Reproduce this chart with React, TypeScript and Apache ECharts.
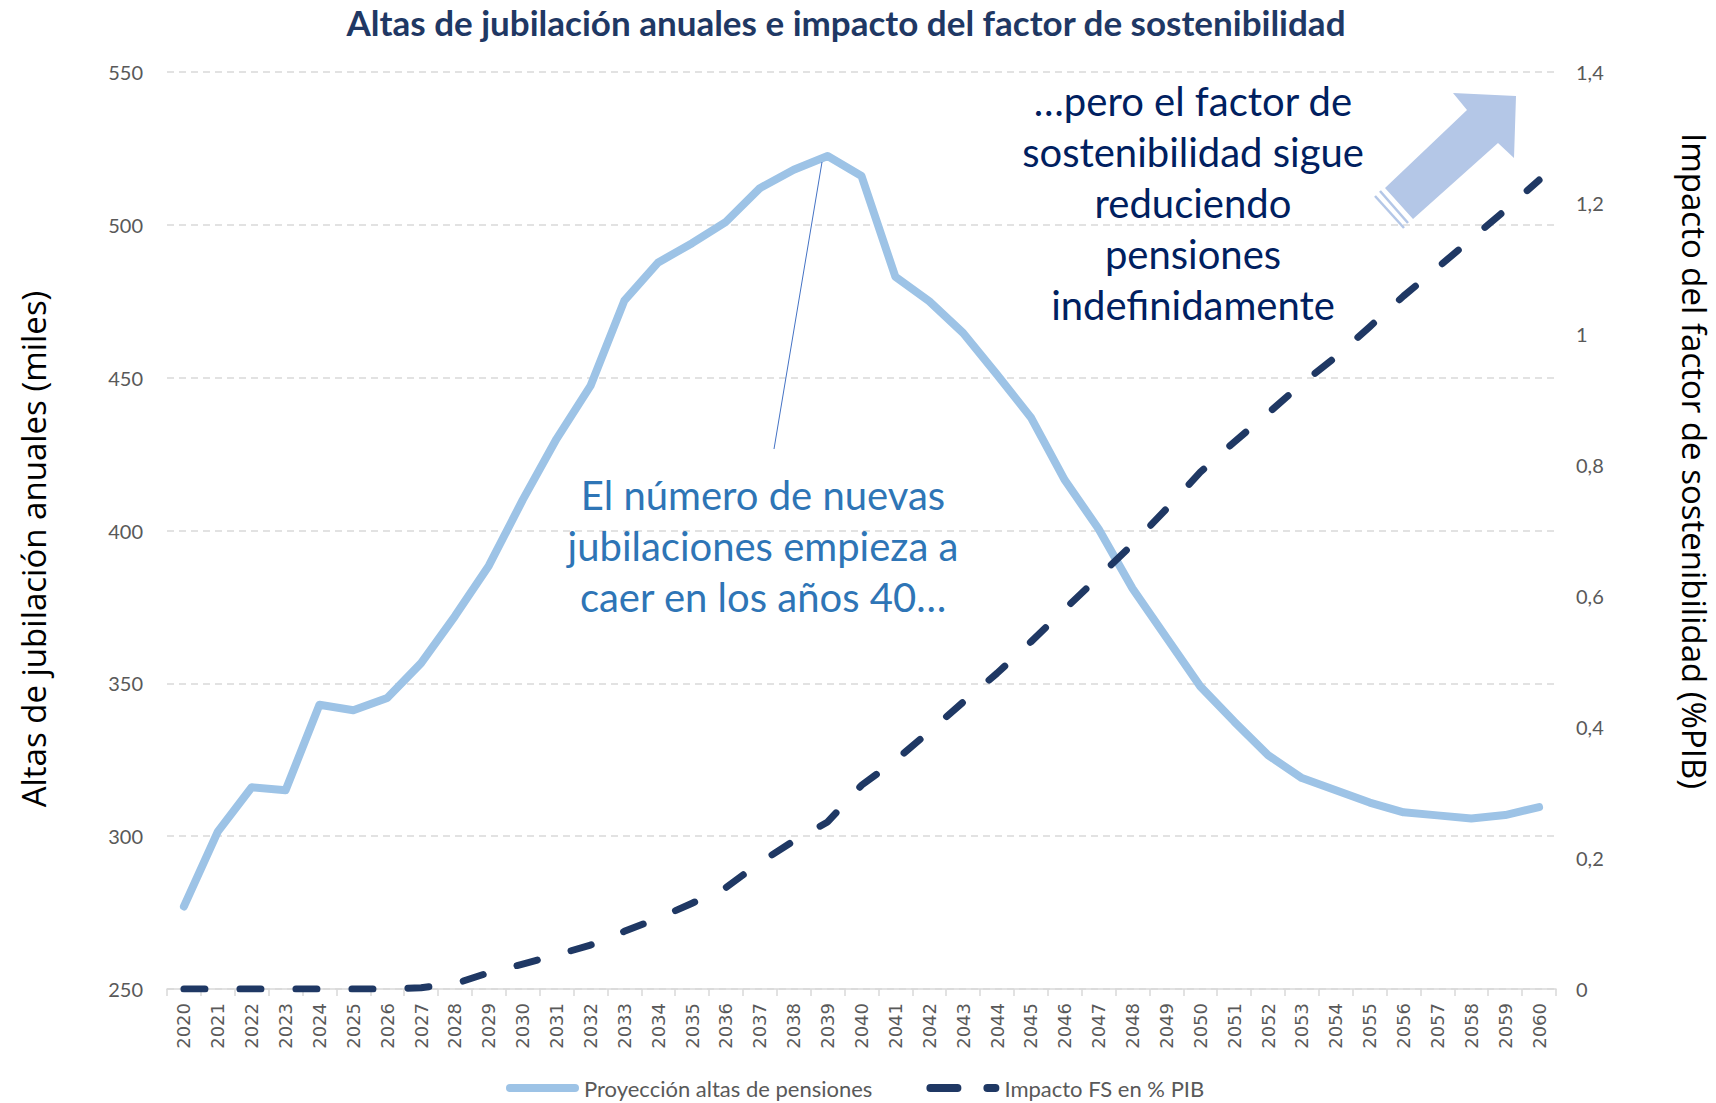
import React, { useEffect, useRef } from "react";
import * as echarts from "echarts";

const years = [
  "2020", "2021", "2022", "2023", "2024", "2025", "2026", "2027", "2028", "2029",
  "2030", "2031", "2032", "2033", "2034", "2035", "2036", "2037", "2038", "2039",
  "2040", "2041", "2042", "2043", "2044", "2045", "2046", "2047", "2048", "2049",
  "2050", "2051", "2052", "2053", "2054", "2055", "2056", "2057", "2058", "2059", "2060",
];

const altasPensiones = [
  277, 301.5, 316, 315, 343, 341.2, 345.2, 356.6, 372, 388.5,
  410, 430, 447.3, 475.2, 487.7, 494, 501, 512, 518, 522.5,
  516, 483, 475, 464.6, 451, 437, 416.5, 400.5, 381, 365,
  349, 337.5, 326.5, 319, 315, 311, 307.8, 306.8, 305.8, 306.9, 309.5,
];

const impactoFS = [
  0, 0, 0, 0, 0, 0, 0, 0.002, 0.008, 0.025,
  0.038, 0.052, 0.067, 0.088, 0.108, 0.131, 0.155, 0.193, 0.226, 0.255,
  0.311, 0.349, 0.393, 0.438, 0.482, 0.53, 0.58, 0.629, 0.679, 0.733,
  0.789, 0.835, 0.879, 0.924, 0.965, 1.011, 1.058, 1.101, 1.145, 1.189, 1.235,
];

const seriesNames = ["Proyección altas de pensiones", "Impacto FS en % PIB"];
const titleText = "Altas de jubilación anuales e impacto del factor de sostenibilidad";
const leftAxisTitle = "Altas de jubilación anuales (miles)";
const rightAxisTitle = "Impacto del factor de sostenibilidad (%PIB)";
const note1 = "El número de nuevas\njubilaciones empieza a\ncaer en los años 40…";
const note2 = "…pero el factor de\nsostenibilidad sigue\nreduciendo\npensiones\nindefinidamente";

const FONT = "Lato, 'Open Sans', sans-serif";

const solidIcon = "path://M4,0 H69 A4,4 0 0 1 69,8 H4 A4,4 0 0 1 4,0 Z";
const dashIcon =
  "path://M4,0 H31 A4,4 0 0 1 31,8 H4 A4,4 0 0 1 4,0 Z M61,0 H69 A4,4 0 0 1 69,8 H61 A4,4 0 0 1 61,0 Z";

export default function App() {
  const ref = useRef<HTMLDivElement>(null);

  useEffect(() => {
    if (!ref.current) return;
    const chart = echarts.init(ref.current, undefined, { renderer: "svg" });
    chart.setOption({
      animation: false,
      backgroundColor: "#ffffff",
      grid: {
        left: 167,
        right: 160,
        top: 72,
        bottom: 114,
        containLabel: false,
        outerBoundsMode: "none",
      },
      legend: {
        left: 506,
        top: 1077,
        itemWidth: 73,
        itemHeight: 8,
        itemGap: 54,
        padding: 0,
        textStyle: { fontFamily: FONT, fontSize: 22, lineHeight: 22, color: "#595959" },
        data: [
          { name: seriesNames[0], icon: solidIcon },
          { name: seriesNames[1], icon: dashIcon },
        ],
      },
      xAxis: {
        type: "category",
        data: years,
        boundaryGap: true,
        axisLine: { lineStyle: { color: "#D9D9D9", width: 1.5 } },
        axisTick: { show: true, interval: 0, length: 7, lineStyle: { color: "#D9D9D9", width: 1.5 } },
        axisLabel: {
          interval: 0,
          rotate: 90,
          margin: 14,
          fontFamily: "'DejaVu Sans', sans-serif",
          fontSize: 18,
          color: "#595959",
        },
        splitLine: { show: false },
      },
      yAxis: [
        {
          type: "value",
          min: 250,
          max: 550,
          interval: 50,
          axisLine: { show: false },
          axisTick: { show: false },
          axisLabel: { margin: 24, fontFamily: FONT, fontSize: 20, color: "#595959" },
          splitLine: { show: true, lineStyle: { color: "#D9D9D9", width: 1.5, type: [7, 5] } },
        },
        {
          type: "value",
          min: 0,
          max: 1.4,
          interval: 0.2,
          position: "right",
          axisLine: { show: false },
          axisTick: { show: false },
          splitLine: { show: false },
          axisLabel: {
            margin: 20,
            fontFamily: FONT,
            fontSize: 20,
            color: "#595959",
            formatter: (v: number) => String(Math.round(v * 10) / 10).replace(".", ","),
          },
        },
      ],
      series: [
        {
          name: seriesNames[0],
          type: "line",
          yAxisIndex: 0,
          data: altasPensiones,
          symbol: "none",
          lineStyle: { color: "#9DC3E6", width: 8, cap: "round", join: "round" },
          itemStyle: { color: "#9DC3E6" },
          z: 2,
        },
        {
          name: seriesNames[1],
          type: "line",
          yAxisIndex: 1,
          data: impactoFS,
          symbol: "none",
          lineStyle: { color: "#1F3864", width: 7, type: [21, 35], cap: "round", join: "round" },
          itemStyle: { color: "#1F3864" },
          z: 3,
        },
      ],
      graphic: [
        {
          type: "text",
          x: 846,
          y: 22,
          style: {
            text: titleText,
            fontFamily: FONT,
            fontWeight: "bold",
            fontSize: 35,
            fill: "#1F3864",
            align: "center",
            verticalAlign: "middle",
          },
        },
        {
          type: "text",
          x: 33,
          y: 549,
          rotation: Math.PI / 2,
          style: {
            text: leftAxisTitle,
            fontFamily: "'Open Sans', sans-serif",
            fontSize: 33,
            fill: "#000000",
            align: "center",
            verticalAlign: "middle",
          },
        },
        {
          type: "text",
          x: 1694,
          y: 461,
          rotation: -Math.PI / 2,
          style: {
            text: rightAxisTitle,
            fontFamily: "'Open Sans', sans-serif",
            fontSize: 33,
            fill: "#000000",
            align: "center",
            verticalAlign: "middle",
          },
        },
        {
          type: "line",
          shape: { x1: 822, y1: 162, x2: 774, y2: 449 },
          style: { stroke: "#4472C4", lineWidth: 1 },
          z: 10,
        },
        {
          type: "text",
          x: 763,
          y: 546,
          style: {
            text: note1,
            fontFamily: FONT,
            fontSize: 40,
            lineHeight: 51,
            fill: "#2E75B6",
            align: "center",
            verticalAlign: "middle",
          },
          z: 10,
        },
        {
          type: "text",
          x: 1193,
          y: 203,
          style: {
            text: note2,
            fontFamily: FONT,
            fontSize: 40,
            lineHeight: 51,
            fill: "#002060",
            align: "center",
            verticalAlign: "middle",
          },
          z: 10,
        },
        {
          type: "polygon",
          shape: {
            points: [
              [1516, 96],
              [1514, 158],
              [1498, 143],
              [1413, 219],
              [1385, 188],
              [1467, 110],
              [1453, 93],
            ],
          },
          style: { fill: "#B4C7E7" },
          z: 10,
        },
        {
          type: "line",
          shape: { x1: 1380, y1: 191, x2: 1408, y2: 223 },
          style: { stroke: "#B4C7E7", lineWidth: 2.5 },
          z: 10,
        },
        {
          type: "line",
          shape: { x1: 1375, y1: 196, x2: 1404, y2: 228 },
          style: { stroke: "#B4C7E7", lineWidth: 2.5 },
          z: 10,
        },
      ],
    });
    return () => chart.dispose();
  }, []);

  return (
    <div
      ref={ref}
      style={{ position: "fixed", left: 0, top: 0, width: 1716, height: 1103, background: "#fff" }}
    />
  );
}
